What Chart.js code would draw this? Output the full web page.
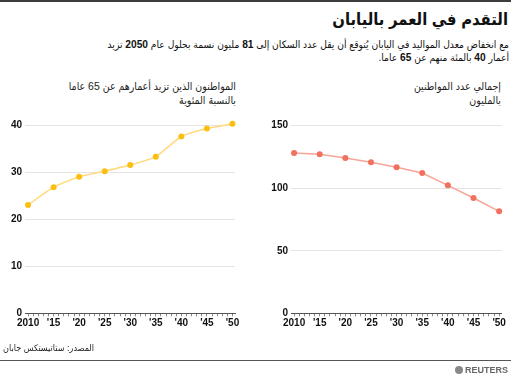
<!DOCTYPE html>
<html>
<head>
<meta charset="utf-8">
<script src="https://cdn.jsdelivr.net/npm/chart.js@4.4.1/dist/chart.umd.min.js"></script>
<style>
  html, body { margin: 0; padding: 0; background: #fff; }
  body { width: 511px; height: 378px; position: relative; overflow: hidden;
         font-family: Arial, "Liberation Sans", "DejaVu Sans Condensed", "DejaVu Sans", sans-serif; color: #111; }
  .ar { font-family: Arial, "Liberation Sans", "DejaVu Sans Condensed", "DejaVu Sans", sans-serif; font-stretch: condensed; }
  .abs { position: absolute; }
  #topline { left: 0; top: 0; width: 511px; height: 2px; background: #3c3c3c; }
  #title { right: 3px; top: 8px; font-size: 16.5px; font-weight: bold; line-height: 22px; direction: rtl; white-space: nowrap; }
  #subtitle { right: 2px; top: 38px; font-size: 10.2px; line-height: 13px; direction: rtl; text-align: right; white-space: nowrap; }
  .ctitle { top: 79px; font-size: 10.5px; line-height: 14px; direction: rtl; text-align: right; white-space: nowrap; color: #222; }
  #t1 { right: 275px; }
  #t2 { right: 10px; }
  #c1wrap { left: 0; top: 110px; width: 245px; height: 235px; }
  #c2wrap { left: 255px; top: 110px; width: 256px; height: 235px; }
  #source { left: 3px; top: 343px; font-size: 9px; direction: rtl; white-space: nowrap; color: #222; }
  #bottomline { left: 0; top: 360px; width: 511px; height: 1px; background: #555; }
  #reuters { right: 3px; top: 365px; font-size: 9px; font-weight: bold; color: #666; white-space: nowrap; line-height: 10px; }
  #reuters span.logo { display: inline-block; width: 8px; height: 8px; border-radius: 50%; background: #888; vertical-align: -1px; margin-right: 2px; }
</style>
</head>
<body>
<div id="topline" class="abs"></div>
<div id="title" class="abs ar">التقدم في العمر باليابان</div>
<div id="subtitle" class="abs ar">مع انخفاض معدل المواليد في اليابان يُتوقع أن يقل عدد السكان إلى <b>81</b> مليون نسمة بحلول عام <b>2050</b> تزيد<br>أعمار <b>40</b> بالمئة منهم عن <b>65</b> عاما.</div>
<div id="t1" class="abs ctitle ar">المواطنون الذين تزيد أعمارهم عن 65 عاما<br>بالنسبة المئوية</div>
<div id="t2" class="abs ctitle ar">إجمالي عدد المواطنين<br>بالمليون</div>
<div id="c1wrap" class="abs"><canvas id="c1" width="245" height="235"></canvas></div>
<div id="c2wrap" class="abs"><canvas id="c2" width="256" height="235"></canvas></div>
<div id="source" class="abs ar">المصدر: ستاتيستكس جابان</div>
<div id="bottomline" class="abs"></div>
<div id="reuters" class="abs"><span class="logo"></span>REUTERS</div>

<script>
// ---- data ----
const years = [2010, 2015, 2020, 2025, 2030, 2035, 2040, 2045, 2050];
const elderlySharePct = [23.1, 26.9, 29.1, 30.3, 31.6, 33.4, 37.7, 39.4, 40.4];
const populationMillions = [128.2, 127.1, 124.2, 120.7, 116.7, 112.2, 102.3, 92.2, 81.5];
const allYears = [];
for (let y = 2010; y <= 2050; y++) allYears.push(y);

function xLabel(v) {
  if (v === 2010) return '2010';
  if (v % 5 === 0) return "'" + String(v).slice(2);
  return '';
}

function makeChart(id, values, lineColor, pointColor, yMax, yStep, yAxisWidth, padRight, tension) {
  const tickFont = { family: 'Arial, "Liberation Sans", sans-serif', size: 10, weight: 'bold' };
  return new Chart(document.getElementById(id), {
    type: 'line',
    data: {
      datasets: [{
        data: years.map((y, i) => ({ x: y, y: values[i] })),
        borderColor: lineColor,
        borderWidth: 1.5,
        backgroundColor: pointColor,
        pointBackgroundColor: pointColor,
        pointBorderColor: pointColor,
        pointRadius: 3,
        pointBorderWidth: 0,
        tension: tension,
        clip: false
      }]
    },
    options: {
      responsive: false,
      animation: false,
      events: [],
      layout: { padding: { top: 15.7, right: padRight, bottom: 6.7, left: 0 } },
      plugins: { legend: { display: false }, tooltip: { enabled: false } },
      scales: {
        x: {
          type: 'linear',
          min: 2009.4,
          max: 2050.5,
          afterBuildTicks: axis => { axis.ticks = allYears.map(v => ({ value: v })); },
          afterFit: axis => { axis.height = 25; },
          border: { display: true, color: '#555', width: 1 },
          grid: { display: true, drawOnChartArea: false, drawTicks: true, tickLength: 3, color: '#888' },
          ticks: { autoSkip: false, maxRotation: 0, minRotation: 0, padding: 1, color: '#111', font: tickFont,
                   callback: v => xLabel(v) }
        },
        y: {
          min: 0,
          max: yMax,
          afterFit: axis => { axis.width = yAxisWidth; },
          border: { display: false },
          grid: { drawTicks: false, color: ctx => (ctx.tick && ctx.tick.value === 0) ? 'rgba(0,0,0,0)' : '#e4e4e4', lineWidth: 1 },
          ticks: { stepSize: yStep, padding: 3, color: '#111', font: tickFont }
        }
      }
    }
  });
}

makeChart('c1', elderlySharePct, '#FFD97A', '#FBBF14', 40, 10, 25, 10, 0.2);
makeChart('c2', populationMillions, '#F7A597', '#F2705E', 150, 50, 36, 9.3, 0);
</script>
</body>
</html>
